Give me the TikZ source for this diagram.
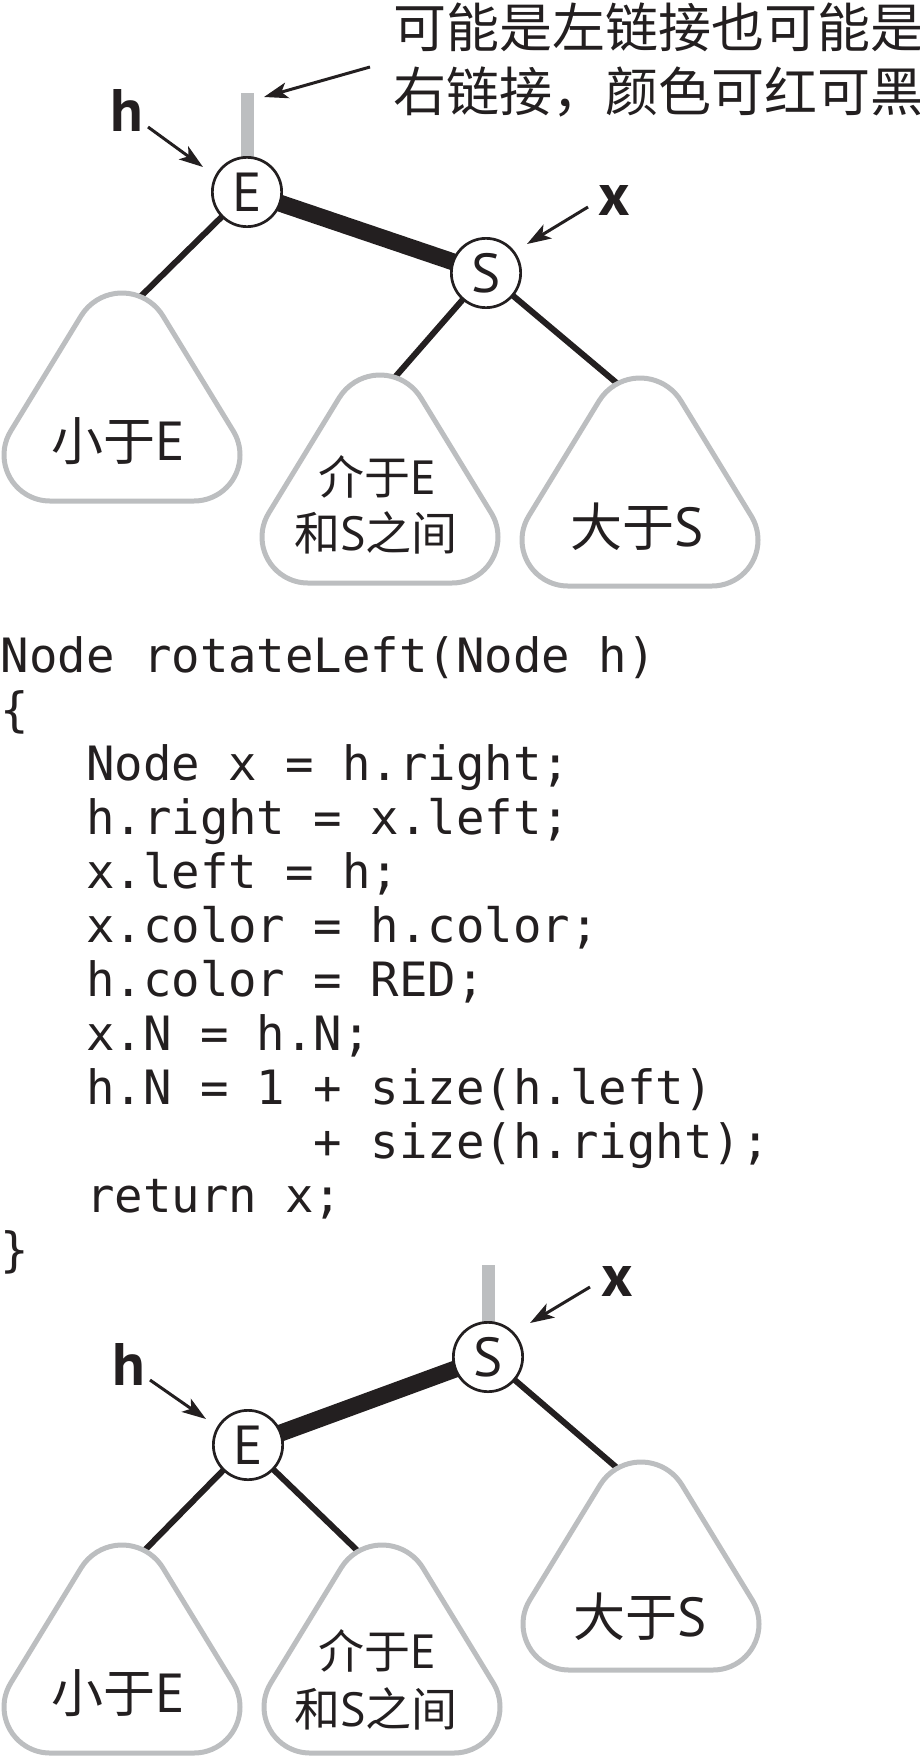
\documentclass[tikz,border=0pt]{standalone}
\usepackage{fontspec}
\usetikzlibrary{arrows.meta,backgrounds}
\newfontfamily\cjk{Noto Sans CJK SC}
\newfontfamily\lat{PT Sans}
\newfontfamily\code{DejaVu Sans Mono}
\newcommand{\LatA}{\lat\fontsize{55}{55}\selectfont}
\newcommand{\LatB}{\lat\fontsize{48}{48}\selectfont}
\definecolor{ink}{RGB}{35,31,32}
\definecolor{linkgray}{RGB}{188,190,192}
\definecolor{blobgray}{RGB}{188,190,192}
\tikzset{
  tnode/.style={circle, draw=ink, line width=2.7pt, fill=white, minimum size=69.3pt,
    inner sep=0pt, text=ink, font=\LatA},
  treeedge/.style={line width=6pt, draw=ink},
  redlink/.style={line width=17pt, draw=ink},
  graylink/.style={line width=13pt, draw=linkgray},
  ptr/.style={line width=3pt, draw=ink, -{Stealth[length=24pt,width=16pt,inset=6pt]}},
  blobline/.style={draw=blobgray, line width=5pt, fill=white},
  ptrlabel/.style={inner sep=0pt, text=ink, font=\lat\bfseries\fontsize{60}{60}\selectfont},
  bigtext/.style={inner sep=0pt, text=ink, font=\cjk\fontsize{52}{52}\selectfont},
  midtext/.style={inner sep=0pt, text=ink, font=\cjk\fontsize{46}{46}\selectfont},
  anntext/.style={inner sep=0pt, anchor=west, text=ink, font=\cjk\fontsize{53}{64}\selectfont},
  codeline/.style={inner sep=0pt, anchor=base west, text=ink, font=\code\fontsize{47.3}{54}\selectfont},
  blob/.pic={
    \path[blobline] (-72,-208) -- (72,-208)
      arc[start angle=-90,end angle=31.43,radius=46pt] -- (40.96,-22.97)
      arc[start angle=31.43,end angle=148.57,radius=48pt] -- (-111.25,-138.02)
      arc[start angle=148.57,end angle=270,radius=46pt] -- cycle;
  }
}
\begin{document}
\frenchspacing
\begin{tikzpicture}[x=1pt,y=1pt]
\useasboundingbox (0,0) rectangle (920,-1756);

% ---------- top tree ----------
\node[anntext] (ann1) at (393,-27.5) {可能是左链接也可能是};
\node[anntext] (ann2) at (393,-91.5) {右链接，颜色可红可黑};

\node[tnode] (E1) at (247,-192) {E};
\node[tnode] (S1) at (486,-273) {S};
\coordinate (top1) at (247,-93);

\coordinate (lb1) at (134,-303);
\coordinate (mb1) at (389,-384);
\coordinate (rb1) at (625,-390);

\pic at (122,-293) {blob};
\pic at (380,-375) {blob};
\pic at (640,-378) {blob};

\node[bigtext] (l1) at (118,-441) {小于{\LatA E}};
\node[midtext] (m1a) at (377,-477) {介于{\LatB E}};
\node[midtext] (m1b) at (376,-533) {和{\LatB S}之间};
\node[bigtext] (r1) at (637,-527) {大于{\LatA S}};

\node[ptrlabel] (h1) at (126.5,-110.5) {h};
\node[ptrlabel] (x1) at (614,-200) {x};
\coordinate (h1s) at (148,-127);
\coordinate (h1e) at (203,-167);
\coordinate (x1s) at (588,-207);
\coordinate (x1e) at (527,-244);
\coordinate (an_s) at (370,-67);
\coordinate (an_e) at (264,-97);
\draw[ptr] (h1s) -- (h1e);
\draw[ptr] (x1s) -- (x1e);
\draw[ptr] (an_s) -- (an_e);

% ---------- code ----------
\node[codeline] (c0) at (0.5,-672) {Node rotateLeft(Node h)};
\node[codeline] (c1) at (0.5,-726) {\{};
\node[codeline] (c2) at (0.5,-780) {~~~Node x = h.right;};
\node[codeline] (c3) at (0.5,-834) {~~~h.right = x.left;};
\node[codeline] (c4) at (0.5,-888) {~~~x.left = h;};
\node[codeline] (c5) at (0.5,-942) {~~~x.color = h.color;};
\node[codeline] (c6) at (0.5,-996) {~~~h.color = RED;};
\node[codeline] (c7) at (0.5,-1050) {~~~x.N = h.N;};
\node[codeline] (c8) at (0.5,-1104) {~~~h.N = 1 + size(h.left)};
\node[codeline] (c9) at (0.5,-1158) {~~~~~~~~~~~+ size(h.right);};
\node[codeline] (c10) at (0.5,-1212) {~~~return x;};
\node[codeline] (c11) at (0.5,-1266) {\}};

% ---------- bottom tree ----------
\node[tnode] (S2) at (488,-1357) {S};
\node[tnode] (E2) at (248,-1445) {E};
\coordinate (top2) at (488,-1265);

\coordinate (lb2) at (139,-1556);
\coordinate (mb2) at (364,-1557);
\coordinate (rb2) at (623,-1473);

\pic at (122,-1545) {blob};
\pic at (382,-1545) {blob};
\pic at (641,-1462) {blob};

\node[bigtext] (l2) at (118,-1693) {小于{\LatA E}};
\node[midtext] (m2a) at (377,-1651) {介于{\LatB E}};
\node[midtext] (m2b) at (376,-1709) {和{\LatB S}之间};
\node[bigtext] (r2) at (640,-1617) {大于{\LatA S}};

\node[ptrlabel] (h2) at (129,-1364) {h};
\node[ptrlabel] (x2) at (617,-1281) {x};
\coordinate (h2s) at (150,-1380);
\coordinate (h2e) at (206,-1419);
\coordinate (x2s) at (590,-1287);
\coordinate (x2e) at (530,-1323);
\draw[ptr] (h2s) -- (h2e);
\draw[ptr] (x2s) -- (x2e);

% ---------- links (behind) ----------
\begin{pgfonlayer}{background}
  \draw[graylink] (top1) -- (E1.center);
  \draw[redlink] (E1.center) -- (S1.center);
  \draw[treeedge] (E1.center) -- (lb1);
  \draw[treeedge] (S1.center) -- (mb1);
  \draw[treeedge] (S1.center) -- (rb1);
  \draw[graylink] (top2) -- (S2.center);
  \draw[redlink] (E2.center) -- (S2.center);
  \draw[treeedge] (E2.center) -- (lb2);
  \draw[treeedge] (E2.center) -- (mb2);
  \draw[treeedge] (S2.center) -- (rb2);
\end{pgfonlayer}
\end{tikzpicture}
\end{document}
